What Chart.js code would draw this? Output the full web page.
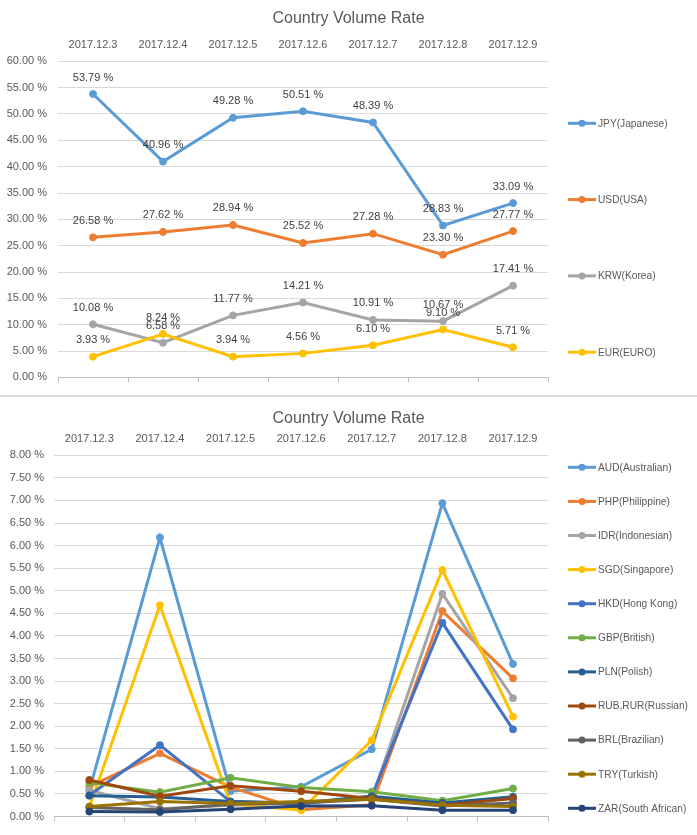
<!DOCTYPE html>
<html>
<head>
<meta charset="utf-8">
<script src="https://cdn.jsdelivr.net/npm/chart.js@4/dist/chart.umd.min.js"></script>
<style>
  html, body { margin: 0; padding: 0; background: #ffffff; }
  #wrap { width: 697px; height: 835px; position: relative; overflow: hidden; }
  .box { position: relative; width: 697px; }
  #sep { width: 697px; height: 2px; background: #d9d9d9; }
</style>
</head>
<body>
<div id="wrap">
  <div class="box" style="height:395px"><canvas id="c1" width="697" height="395"></canvas></div>
  <div id="sep"></div>
  <div class="box" style="height:438px"><canvas id="c2" width="697" height="438"></canvas></div>
</div>
<script>
// ---------------- DATA ----------------
const chartTitle = 'Country Volume Rate';
const dates = ['2017.12.3', '2017.12.4', '2017.12.5', '2017.12.6', '2017.12.7', '2017.12.8', '2017.12.9'];

// Top chart (percent values)
const jpy = [53.79, 40.96, 49.28, 50.51, 48.39, 28.83, 33.09];
const usd = [26.58, 27.62, 28.94, 25.52, 27.28, 23.30, 27.77];
const krw = [10.08, 6.58, 11.77, 14.21, 10.91, 10.67, 17.41];
const eur = [3.93, 8.24, 3.94, 4.56, 6.10, 9.10, 5.71];
const topLabels = ['JPY(Japanese)', 'USD(USA)', 'KRW(Korea)', 'EUR(EURO)'];

// Bottom chart (percent values)
const aud = [0.58, 6.18, 0.56, 0.66, 1.49, 6.94, 3.38];
const php = [0.66, 1.40, 0.65, 0.15, 0.26, 4.55, 3.06];
const idr = [0.58, 0.17, 0.25, 0.30, 0.40, 4.93, 2.62];
const sgd = [0.20, 4.68, 0.28, 0.14, 1.69, 5.46, 2.21];
const hkd = [0.47, 1.58, 0.33, 0.28, 0.45, 4.29, 1.93];
const gbp = [0.75, 0.54, 0.86, 0.64, 0.55, 0.35, 0.62];
const pln = [0.46, 0.43, 0.33, 0.30, 0.45, 0.30, 0.44];
const rub = [0.81, 0.45, 0.68, 0.56, 0.40, 0.25, 0.40];
const brl = [0.20, 0.15, 0.27, 0.30, 0.38, 0.23, 0.30];
const tryv = [0.22, 0.33, 0.29, 0.33, 0.38, 0.25, 0.22];
const zar = [0.11, 0.10, 0.16, 0.23, 0.24, 0.14, 0.14];
const bottomLabels = ['AUD(Australian)', 'PHP(Philippine)', 'IDR(Indonesian)', 'SGD(Singapore)', 'HKD(Hong Kong)',
  'GBP(British)', 'PLN(Polish)', 'RUB,RUR(Russian)', 'BRL(Brazilian)', 'TRY(Turkish)', 'ZAR(South African)'];

// ---------------- STYLE ----------------
const FONT = '"Liberation Sans", Arial, sans-serif';
const topColors = ['#5b9bd5', '#ed7d31', '#a5a5a5', '#ffc000'];
const bottomColors = ['#5b9bd5', '#ed7d31', '#a5a5a5', '#ffc000', '#4472c4', '#70ad47', '#255e91', '#9e480e', '#636363', '#997300', '#264478'];

Chart.defaults.font.family = FONT;
Chart.defaults.color = '#595959';

const sideLegend = {
  id: 'sideLegend',
  afterDraw(chart, args, opts) {
    const ctx = chart.ctx;
    chart.data.datasets.forEach((ds, i) => {
      const y = opts.y0 + i * opts.step;
      const x = opts.x;
      ctx.save();
      ctx.strokeStyle = ds.borderColor;
      ctx.lineWidth = 3;
      ctx.beginPath(); ctx.moveTo(x, y); ctx.lineTo(x + 28, y); ctx.stroke();
      ctx.fillStyle = ds.borderColor;
      ctx.beginPath(); ctx.arc(x + 14, y, 3.5, 0, Math.PI * 2); ctx.fill();
      ctx.fillStyle = '#595959';
      ctx.font = '10.2px ' + FONT;
      ctx.textBaseline = 'middle';
      ctx.textAlign = 'left';
      ctx.fillText(ds.label, x + 30, y + 0.5);
      ctx.restore();
    });
  }
};

const valueLabels = {
  id: 'valueLabels',
  afterDatasetsDraw(chart, args, opts) {
    if (!opts.display) return;
    const ctx = chart.ctx;
    ctx.save();
    ctx.font = '11px ' + FONT;
    ctx.fillStyle = '#404040';
    ctx.textAlign = 'center';
    ctx.textBaseline = 'middle';
    chart.data.datasets.forEach((ds, di) => {
      const meta = chart.getDatasetMeta(di);
      meta.data.forEach((pt, i) => {
        ctx.fillText(ds.data[i].toFixed(2) + ' %', pt.x, pt.y - 16.5);
      });
    });
    ctx.restore();
  }
};

function makeDatasets(series, labels, colors) {
  const n = series.length;
  return series.map((d, i) => ({
    label: labels[i],
    data: d,
    borderColor: colors[i],
    backgroundColor: colors[i],
    pointBackgroundColor: colors[i],
    pointBorderColor: colors[i],
    borderWidth: 3,
    pointRadius: 3.5,
    pointBorderWidth: 1,
    tension: 0,
    xAxisID: 'x',
    yAxisID: 'y',
    order: n - i
  }));
}

function makeOptions(cfg) {
  return {
    responsive: false,
    animation: false,
    events: [],
    layout: { padding: { left: 0, right: 0, top: 0, bottom: cfg.bottom } },
    plugins: {
      legend: { display: false },
      tooltip: { enabled: false },
      title: {
        display: true,
        text: chartTitle,
        color: '#595959',
        font: { size: 16, weight: 'normal', family: FONT },
        padding: { top: cfg.titleTop, bottom: 0 }
      },
      sideLegend: { x: cfg.legendX, y0: cfg.legendY0, step: cfg.legendStep },
      valueLabels: { display: cfg.valueLabels }
    },
    scales: {
      x: {
        type: 'category',
        position: 'top',
        offset: true,
        grid: { display: false, drawTicks: false },
        border: { display: false },
        ticks: { color: '#595959', font: { size: 11, family: FONT }, padding: cfg.xPad, maxRotation: 0, autoSkip: false },
        afterFit(scale) { scale.height = cfg.xHeight; }
      },
      x2: {
        type: 'category',
        position: 'bottom',
        offset: true,
        grid: { display: true, drawOnChartArea: false, offset: true, tickLength: 5, color: '#bfbfbf', tickColor: '#bfbfbf', tickWidth: 1 },
        border: { display: true, color: '#bfbfbf', width: 1 },
        ticks: { display: false },
        afterFit(scale) { scale.height = 5; }
      },
      y: {
        position: 'left',
        min: 0,
        max: cfg.yMax,
        grid: { color: '#d9d9d9', drawTicks: false, lineWidth: 1 },
        border: { display: false },
        ticks: {
          stepSize: cfg.yStep,
          padding: cfg.yPad,
          color: '#595959',
          font: { size: 11, family: FONT },
          callback: (v) => Number(v).toFixed(2) + ' %'
        },
        afterFit(scale) { scale.width = cfg.yWidth; }
      },
      legendSpace: {
        type: 'linear',
        position: 'right',
        display: true,
        grid: { display: false, drawTicks: false },
        border: { display: false },
        ticks: { display: false },
        afterFit(scale) { scale.width = cfg.right; }
      }
    }
  };
}

new Chart(document.getElementById('c1'), {
  type: 'line',
  data: {
    labels: dates,
    datasets: makeDatasets([jpy, usd, krw, eur], topLabels, topColors)
  },
  options: makeOptions({
    right: 149, bottom: 9, titleTop: 8.7, xPad: 10, xHeight: 33.4,
    yMax: 60, yStep: 5, yPad: 11, yWidth: 58,
    legendX: 568, legendY0: 123.3, legendStep: 76.3, valueLabels: true
  }),
  plugins: [sideLegend, valueLabels]
});

new Chart(document.getElementById('c2'), {
  type: 'line',
  data: {
    labels: dates,
    datasets: makeDatasets([aud, php, idr, sgd, hkd, gbp, pln, rub, brl, tryv, zar], bottomLabels, bottomColors)
  },
  options: makeOptions({
    right: 148.7, bottom: 13.5, titleTop: 12.4, xPad: 9.4, xHeight: 26.7,
    yMax: 8, yStep: 0.5, yPad: 10, yWidth: 54,
    legendX: 568, legendY0: 70.3, legendStep: 34.1, valueLabels: false
  }),
  plugins: [sideLegend, valueLabels]
});
</script>
</body>
</html>
